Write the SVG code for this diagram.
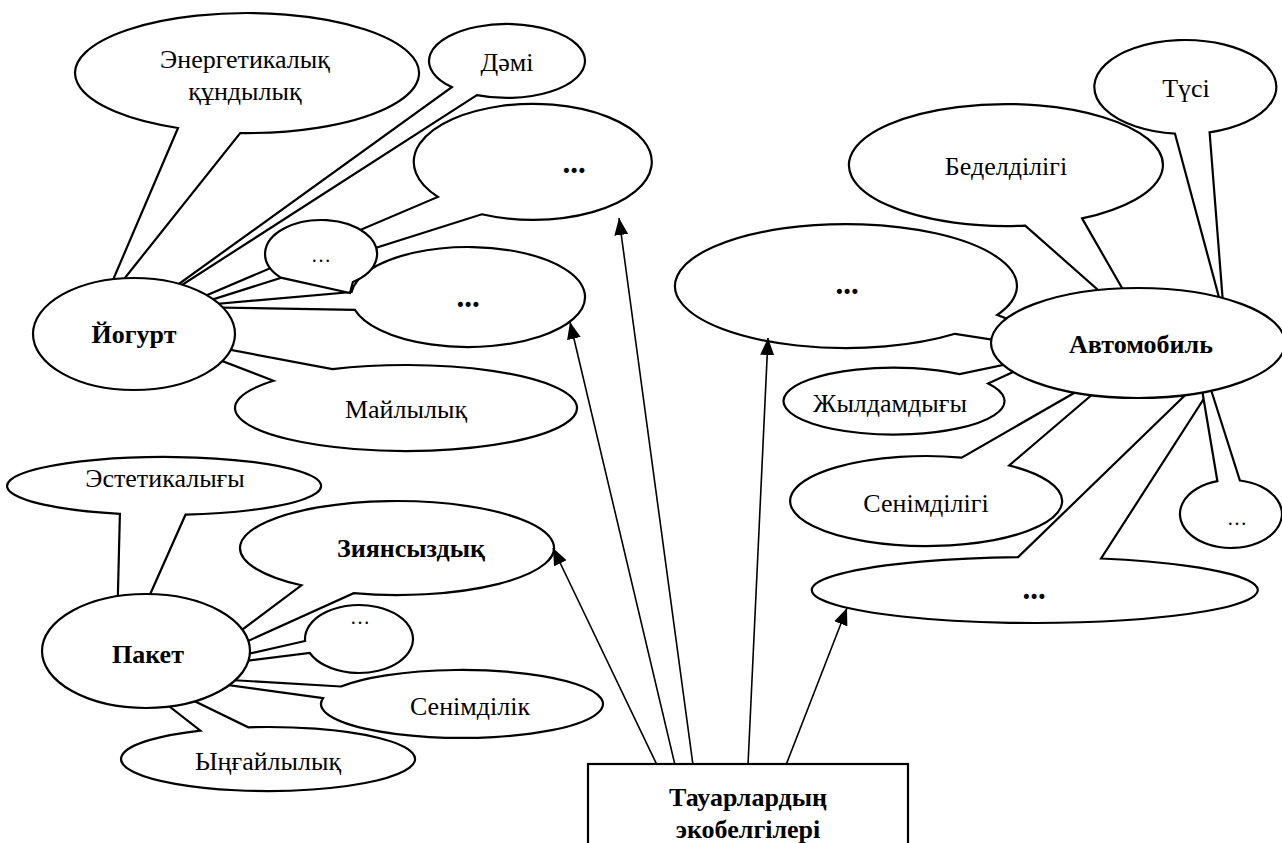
<svg xmlns="http://www.w3.org/2000/svg" width="1282" height="843" viewBox="0 0 1282 843">
<defs>
<style>
.c{fill:#fff;stroke:#000;stroke-width:2.2;stroke-linejoin:miter}
.t{font-family:"Liberation Serif","Times New Roman",serif;font-size:26px;text-anchor:middle;fill:#000}
.b{font-weight:bold}
.d{font-weight:bold;font-size:31px}
.s{font-size:20px}
.a{stroke:#000;stroke-width:1.6;fill:none;marker-end:url(#ah)}
</style>
<marker id="ah" markerUnits="userSpaceOnUse" markerWidth="18" markerHeight="16" refX="17" refY="7" orient="auto">
<path d="M0,0 L17,7 L0,14 Z" fill="#000"/>
</marker>
</defs>
<rect width="1282" height="843" fill="#fff"/>

<g id="energ"><path class="c" d="M178,128 A172,60 0 1 1 240.2,133 L101,308 Z"/><text class="t" x="245" y="68">Энергетикалық</text><text class="t" x="245" y="100">құндылық</text></g>
<g id="dami"><path class="c" d="M451.8,87.1 A78,37 0 1 1 476.9,95.1 L140,312 Z"/><text class="t" x="507" y="71">Дәмі</text></g>
<g id="dotsA"><path class="c" d="M437.9,196.9 A119,58 0 1 1 481.8,214.3 L151,319 Z"/><text class="t d" x="574" y="173">...</text></g>
<g id="dotsC"><path class="c" d="M351.6,292 A117,50 0 1 1 354.9,309.8 L182,307 Z"/><text class="t d" x="468" y="307">...</text></g>
<g id="dotsB"><path class="c" d="M280.7,277.6 A56,34 0 1 1 352.9,282 L350,293 Z"/><text class="t s" x="321" y="262">…</text></g>
<g id="mailylyk"><path class="c" d="M332.4,369.2 A171,43 0 1 1 273.6,380.8 L157,336 Z"/><text class="t" x="406" y="418">Майлылық</text></g>
<g id="yogurt"><ellipse class="c" cx="134" cy="334" rx="101" ry="56"/><text class="t b" x="134" y="343">Йогурт</text></g>

<g id="tusi"><path class="c" d="M1175,133.7 A91,47 0 1 1 1209.6,132.3 L1224,316 Z"/><text class="t" x="1186" y="97">Түсі</text></g>
<g id="bedel"><path class="c" d="M1025.2,225.6 A157,61 0 1 1 1082.1,218.4 L1149,335 Z"/><text class="t" x="1006" y="175">Беделділігі</text></g>
<g id="dotsD"><path class="c" d="M955.1,333.8 A171,62 0 1 1 997.2,315 L1115,359 Z"/><text class="t d" x="847" y="294">...</text></g>
<g id="zhyldam"><path class="c" d="M988.1,383.5 A110.5,33.5 0 1 1 959.6,374.1 L1050,355 Z"/><text class="t" x="890" y="412">Жылдамдығы</text></g>
<g id="senimdiligi"><path class="c" d="M1009.2,465.4 A136,45 0 1 1 961.7,457.6 L1135,358 Z"/><text class="t" x="926" y="512">Сенімділігі</text></g>
<g id="dotsE"><path class="c" d="M1101.1,558.5 A223,33 0 1 1 1018.1,557.1 L1241,341 Z"/><text class="t d" x="1034" y="599">...</text></g>
<g id="dotsF"><path class="c" d="M1239.9,480.5 A51,34 0 1 1 1217.4,481.2 L1192,330 Z"/><text class="t s" x="1237" y="525">…</text></g>
<g id="avto"><ellipse class="c" cx="1138" cy="343" rx="147" ry="55"/><text class="t b" x="1141" y="353">Автомобиль</text></g>

<g id="estet"><path class="c" d="M119.9,513.8 A157,29 0 1 1 185.5,514.7 L116,671 Z"/><text class="t" x="165" y="487">Эстетикалығы</text></g>
<g id="ziyan"><path class="c" d="M301.4,585.3 A157,47 0 1 1 353.7,593.2 L195,665 Z"/><text class="t b" x="411" y="557" font-size="27">Зиянсыздық</text></g>
<g id="dotsG"><path class="c" d="M305.1,641 A54,34 0 1 1 309.8,653 L181,669 Z"/><text class="t s" x="360" y="624">…</text></g>
<g id="senimdilik"><path class="c" d="M341,686.5 A141,34 0 1 1 323.1,698.1 L162,676 Z"/><text class="t" x="470" y="715">Сенімділік</text></g>
<g id="ynghai"><path class="c" d="M248.3,727.3 A147,32 0 1 1 200.4,730.6 L110,660 Z"/><text class="t" x="268" y="770">Ыңғайлылық</text></g>
<g id="paket"><ellipse class="c" cx="146" cy="651" rx="104" ry="57"/><text class="t b" x="148" y="663">Пакет</text></g>

<g id="box"><rect class="c" x="588" y="764" width="320" height="100"/><text class="t b" x="748" y="806">Тауарлардың</text><text class="t b" x="748" y="838">экобелгілері</text></g>

<g id="connectors">
<line class="a" x1="657" y1="765" x2="553" y2="548"/>
<line class="a" x1="675" y1="765" x2="570" y2="322"/>
<line class="a" x1="693" y1="765" x2="619" y2="218"/>
<line class="a" x1="748" y1="765" x2="768" y2="338"/>
<line class="a" x1="786" y1="765" x2="847" y2="608"/>
</g>
</svg>
